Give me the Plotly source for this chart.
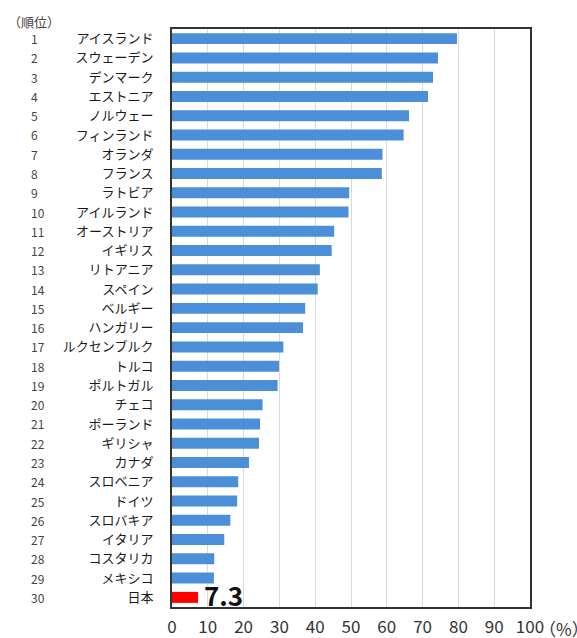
import plotly.graph_objects as go

ranks = list(range(1, 31))
countries = ["アイスランド", "スウェーデン", "デンマーク", "エストニア", "ノルウェー",
             "フィンランド", "オランダ", "フランス", "ラトビア", "アイルランド",
             "オーストリア", "イギリス", "リトアニア", "スペイン", "ベルギー",
             "ハンガリー", "ルクセンブルク", "トルコ", "ポルトガル", "チェコ",
             "ポーランド", "ギリシャ", "カナダ", "スロベニア", "ドイツ",
             "スロバキア", "イタリア", "コスタリカ", "メキシコ", "日本"]
values = [79.6, 74.3, 72.9, 71.5, 66.2, 64.7, 58.8, 58.6, 49.5, 49.3,
          45.3, 44.6, 41.3, 40.7, 37.2, 36.6, 31.1, 29.9, 29.5, 25.3,
          24.6, 24.3, 21.5, 18.5, 18.2, 16.3, 14.6, 11.8, 11.7, 7.3]
x_ticks = [0, 10, 20, 30, 40, 50, 60, 70, 80, 90, 100]
highlight = "日本"

FONT = "Noto Sans CJK JP"
blue = "#4A8FD8"
red = "#FF0000"
colors = [red if c == highlight else blue for c in countries]

fig = go.Figure(go.Bar(
    x=values, y=countries, orientation="h",
    marker=dict(color=colors, line=dict(width=0)),
    hoverinfo="x+y",
))

L, R, T, B = 172, 47, 29, 31
W, H = 577, 638
pw = W - L - R
ph = H - T - B

annotations = []
for r, c in zip(ranks, countries):
    annotations.append(dict(
        x=(29 - L) / pw, xref="paper", y=c, yref="y", text=str(r),
        showarrow=False, xanchor="left", yanchor="middle",
        font=dict(family=FONT, size=12, color="#444444"),
    ))
annotations.append(dict(
    x=(6 - L) / pw, xref="paper", y=1 + (T - 21) / ph, yref="paper",
    text="（順位）", showarrow=False, xanchor="left", yanchor="middle",
    font=dict(family=FONT, size=13, color="#444444"),
))
annotations.append(dict(
    x=1, xref="paper", y=-(628 - (H - B)) / ph, yref="paper",
    text="（%）", showarrow=False, xanchor="left", yanchor="middle", xshift=7,
    font=dict(family=FONT, size=17, color="#333333"),
))
hi = countries.index(highlight)
annotations.append(dict(
    x=values[hi], xref="x", y=countries[hi], yref="y", text=f"{values[hi]}",
    showarrow=False, xanchor="left", yanchor="middle", xshift=4, yshift=3,
    font=dict(family=FONT, size=26, color="#111111", weight="bold"),
))

fig.update_layout(
    width=W, height=H,
    margin=dict(l=L, r=R, t=T, b=B, pad=0, autoexpand=False),
    paper_bgcolor="white", plot_bgcolor="white",
    bargap=0.43, showlegend=False,
    font=dict(family=FONT, color="#222222"),
    annotations=annotations,
    xaxis=dict(
        range=[0, 100], autorange=False, tickvals=x_ticks,
        ticktext=[str(v) for v in x_ticks],
        showgrid=True, gridcolor="#DADADA", gridwidth=1,
        showline=True, linecolor="#333333", linewidth=2, mirror=True,
        ticks="", zeroline=False, ticklabelstandoff=4, automargin=False,
        tickfont=dict(family=FONT, size=17, color="#333333"),
        fixedrange=True,
    ),
    yaxis=dict(
        categoryorder="array", categoryarray=countries,
        range=[len(countries) - 0.5, -0.5], autorange=False,
        showgrid=False, showline=True, linecolor="#333333", linewidth=2, mirror=True,
        ticks="", ticklabelstandoff=14, automargin=False,
        tickfont=dict(family=FONT, size=13, color="#1A1A1A"),
        fixedrange=True,
    ),
)

fig.write_html(
    "out.html",
    config={"displayModeBar": False},
    post_script="document.body.style.margin='0';document.body.style.overflow='hidden';",
)
